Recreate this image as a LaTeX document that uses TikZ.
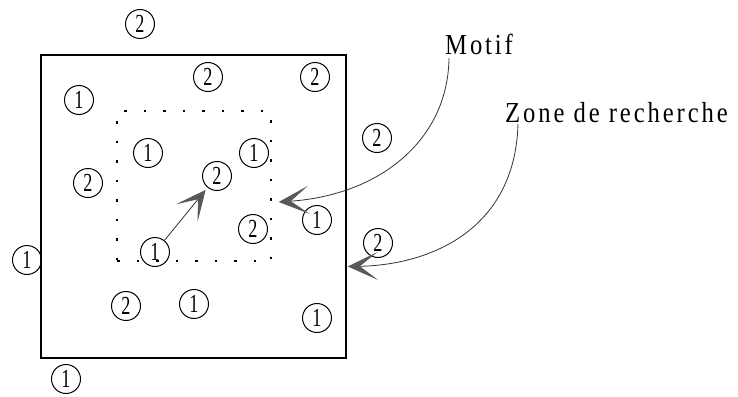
\documentclass[tikz,border=0pt]{standalone}
\usepackage{fontspec}
\setmainfont{Liberation Serif}
\newfontfamily\chiffre[FakeStretch=0.7]{Liberation Serif}
\newfontfamily\legende[FakeStretch=0.85,LetterSpace=10]{Liberation Serif}
\usetikzlibrary{arrows.meta,positioning}

\begin{document}
\begin{tikzpicture}[x=1pt,y=-1pt,
  pion/.style={circle,draw,line width=1pt,minimum size=29pt,inner sep=0pt,
    font=\chiffre\fontsize{26}{26}\selectfont},
  fleche/.style={black!80,line width=0.8pt,
    -{Stealth[length=30pt,width=28pt,inset=18pt,color=black!65]}},
  etiquette/.style={anchor=base west,inner sep=0pt,font=\legende\fontsize{29}{29}\selectfont}]
\useasboundingbox (0,0) rectangle (738,396);
% zone de recherche et motif
\node[draw,line width=1.6pt,minimum width=305pt,minimum height=303pt,inner sep=0pt] (zone) at (193.5,206.5) {};
\node[draw,line width=1.5pt,dash pattern=on 2.5pt off 17pt,minimum width=154pt,minimum height=150pt,inner sep=0pt] (motif) at (194,186) {};
% les pions
\foreach \nom/\x/\y/\v in {t2/140/24/2, a2/208/77/2, b2/315/77/2, c1/79/100/1,
    d1/148/153/1, e1/254/153/1, f2/217/176/2, g2/88/183/2, h2/377/138/2,
    i1/317/220/1, j2/378/243/2, k2/253/229/2, m1/155/252/1, n1/27/260/1,
    o2/126/306/2, p1/194/304/1, q1/317/318/1, r1/66/379/1}
  \node[pion] (\nom) at (\x,\y) {\v};
\draw[fleche,shorten >=3pt] (m1) -- (f2);
% legendes
\node[etiquette] (lmotif) at (445,55) {Motif};
\node[etiquette] (lzone) at (505,122) {Zone de recherche};
\coordinate (pmotif) at ([xshift=7pt,yshift=-16pt]motif.east);
\coordinate (pzone) at ([xshift=1pt,yshift=-60pt]zone.east);
\draw[fleche] ([xshift=4pt,yshift=-3pt]lmotif.base west) .. controls (448,140) and (380,195) .. (pmotif);
\draw[fleche] ([xshift=13pt,yshift=-2pt]lzone.base west) .. controls (515,230) and (430,265) .. (pzone);
\end{tikzpicture}
\end{document}
